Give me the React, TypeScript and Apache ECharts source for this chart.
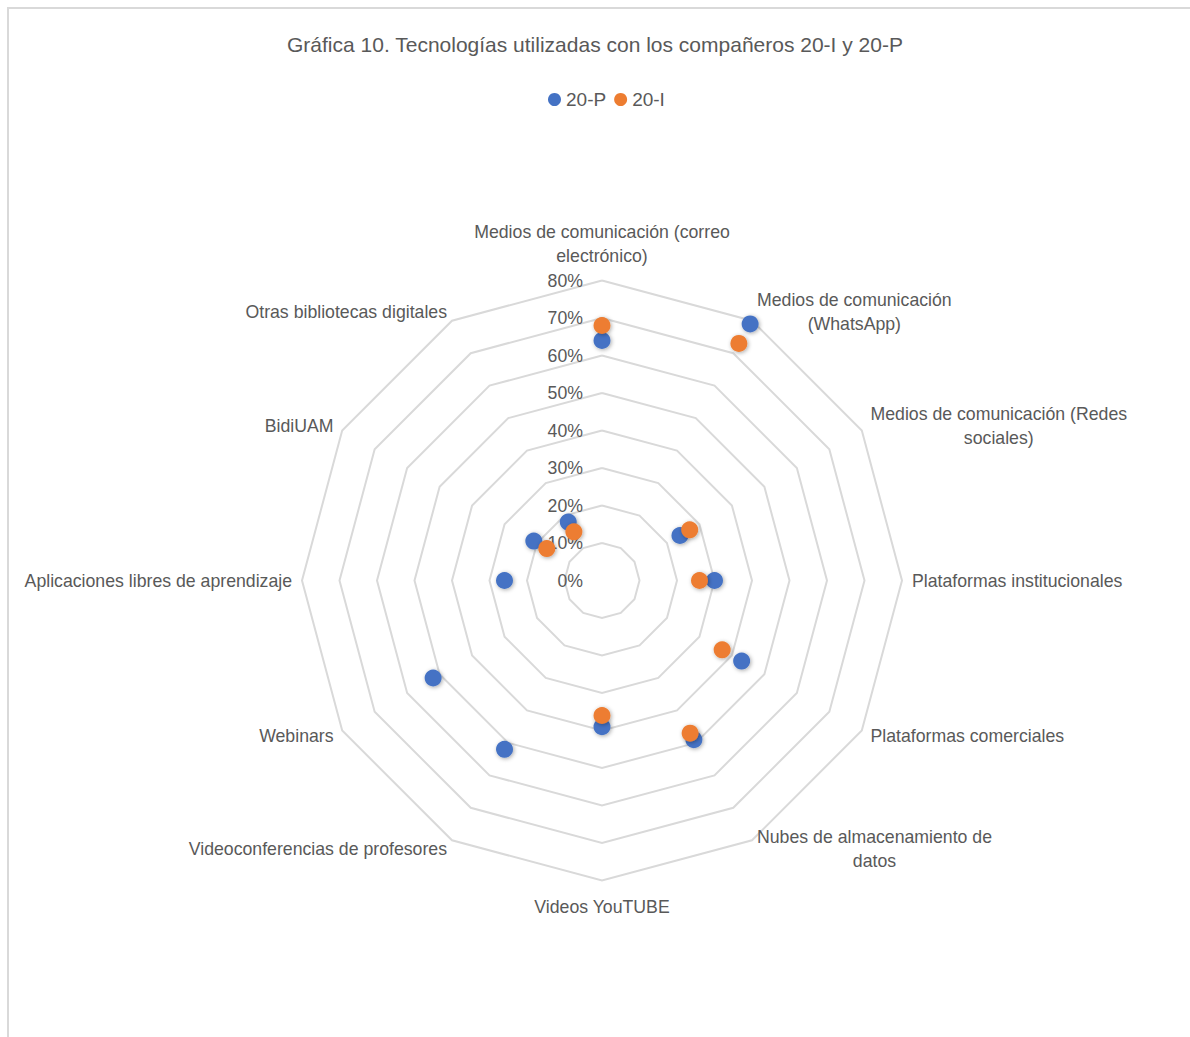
import React, { useEffect, useRef } from "react";
import * as echarts from "echarts";

// Categories in clockwise order starting from the top
const categories: string[] = [
  "Medios de comunicación (correo\nelectrónico)",
  "Medios de comunicación\n(WhatsApp)",
  "Medios de comunicación (Redes\nsociales)",
  "Plataformas institucionales",
  "Plataformas comerciales",
  "Nubes de almacenamiento de\ndatos",
  "Videos YouTUBE",
  "Videoconferencias de profesores",
  "Webinars",
  "Aplicaciones libres de aprendizaje",
  "BidiUAM",
  "Otras bibliotecas digitales",
];

const seriesNames: string[] = ["20-P", "20-I"];
const values20P: (number | null)[] = [64, 79, 24, 30, 43, 49, 39, 52, 52, 26, 21, 18];
const values20I: (number | null)[] = [68, 73, 27, 26, 37, 47, 36, null, null, null, 17, 15];

const axisMin = 0;
const axisMax = 80;
const axisSplits = 8;
const tickSuffix = "%";

const colors = ["#4472C4", "#ED7D31"];
const textColor = "#595959";
const font = "'Liberation Sans', Arial, sans-serif";

export default function App() {
  const ref = useRef<HTMLDivElement>(null);

  useEffect(() => {
    if (!ref.current) return;
    const chart = echarts.init(ref.current, undefined, { renderer: "svg" });

    const center = [602, 580.5];
    const radius = 300;

    // The radar component lays indicators out counter-clockwise; reorder so they read clockwise.
    const n = categories.length;
    const order = [0];
    for (let i = n - 1; i >= 1; i--) order.push(i);

    const indicator = order.map((idx, k) => {
      const ind: any = { name: categories[idx], min: axisMin, max: axisMax };
      if (k === 0) {
        ind.axisLabel = { show: true };
        ind.nameGap = 13;
      }
      if (idx === 6) ind.nameGap = 14;
      return ind;
    });

    const toPoints = (arr: (number | null)[]) =>
      arr
        .map((v, i) => (v == null ? null : [v, i]))
        .filter((p) => p !== null);

    const shadow = {
      shadowBlur: 4,
      shadowColor: "rgba(0,0,0,0.35)",
      shadowOffsetX: 1,
      shadowOffsetY: 1,
    };

    const option: any = {
      animation: false,
      backgroundColor: "#ffffff",
      textStyle: { fontFamily: font },
      title: {
        text: "Gráfica 10. Tecnologías utilizadas con los compañeros 20-I y 20-P",
        left: "center",
        top: 29,
        textStyle: {
          fontFamily: font,
          fontSize: 21,
          fontWeight: "normal",
          color: textColor,
        },
      },
      legend: {
        data: seriesNames,
        top: 85,
        left: 543,
        icon: "circle",
        itemWidth: 13,
        itemHeight: 13,
        itemGap: 8,
        textStyle: { fontFamily: font, fontSize: 19, color: textColor },
      },
      graphic: [
        {
          type: "rect",
          silent: true,
          z: -1,
          shape: { x: 8, y: 8, width: 1400, height: 1400 },
          style: { fill: "none", stroke: "#d9d9d9", lineWidth: 2 },
        },
      ],
      radar: {
        center,
        radius,
        shape: "polygon",
        splitNumber: axisSplits,
        indicator,
        nameGap: 10,
        axisName: {
          color: textColor,
          fontFamily: font,
          fontSize: 17.7,
          lineHeight: 24,
          formatter: (name: string) =>
            name
              .split("\n")
              .map((l) => "{c|" + l + "}")
              .join("\n"),
          rich: {
            c: {
              align: "center",
              color: textColor,
              fontFamily: font,
              fontSize: 17.7,
              lineHeight: 24,
            },
          },
        },
        axisLine: { show: false },
        axisTick: { show: false },
        axisLabel: {
          show: false,
          formatter: "{value}" + tickSuffix,
          color: textColor,
          fontFamily: font,
          fontSize: 17.7,
          margin: 19,
        },
        splitLine: { lineStyle: { color: "#d9d9d9", width: 2 } },
        splitArea: { show: false },
      },
      polar: { center, radius },
      angleAxis: {
        type: "category",
        data: categories,
        startAngle: 90,
        clockwise: true,
        boundaryGap: false,
        axisLine: { show: false },
        axisTick: { show: false },
        axisLabel: { show: false },
        splitLine: { show: false },
      },
      radiusAxis: {
        type: "value",
        min: axisMin,
        max: axisMax,
        axisLine: { show: false },
        axisTick: { show: false },
        axisLabel: { show: false },
        splitLine: { show: false },
      },
      series: [
        {
          type: "scatter",
          coordinateSystem: "polar",
          name: seriesNames[0],
          symbol: "circle",
          symbolSize: 17,
          itemStyle: { color: colors[0], opacity: 1, ...shadow },
          emphasis: { disabled: true },
          data: toPoints(values20P),
        },
        {
          type: "scatter",
          coordinateSystem: "polar",
          name: seriesNames[1],
          symbol: "circle",
          symbolSize: 17,
          itemStyle: { color: colors[1], opacity: 1, ...shadow },
          emphasis: { disabled: true },
          data: toPoints(values20I),
        },
      ],
    };

    chart.setOption(option);
    return () => chart.dispose();
  }, []);

  return (
    <div
      ref={ref}
      style={{ position: "absolute", left: 0, top: 0, width: 1190, height: 1037 }}
    />
  );
}
